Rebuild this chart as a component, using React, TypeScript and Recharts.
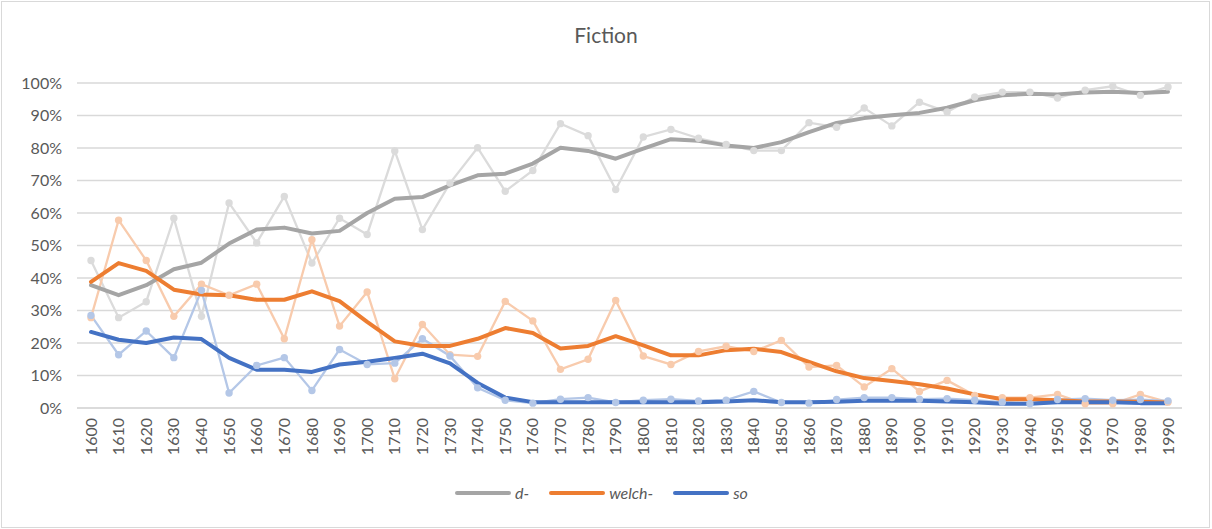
import React from "react";
import { LineChart, Line, XAxis, YAxis, CartesianGrid, Legend } from "recharts";

const years = [
  "1600", "1610", "1620", "1630", "1640", "1650", "1660", "1670", "1680", "1690",
  "1700", "1710", "1720", "1730", "1740", "1750", "1760", "1770", "1780", "1790",
  "1800", "1810", "1820", "1830", "1840", "1850", "1860", "1870", "1880", "1890",
  "1900", "1910", "1920", "1930", "1940", "1950", "1960", "1970", "1980", "1990",
];

const dRaw = [45.4, 27.8, 32.7, 58.4, 28.2, 63.1, 50.8, 65.1, 44.6, 58.4, 53.4, 79.1, 54.9, 69.2, 80.1, 66.7, 73.1, 87.5, 83.8, 67.2, 83.4, 85.7, 83.0, 81.1, 79.2, 79.2, 87.8, 86.4, 92.3, 86.8, 94.1, 91.1, 95.7, 97.2, 97.2, 95.4, 97.8, 99.0, 96.2, 98.8];
const dSmooth = [37.8, 34.7, 37.8, 42.7, 44.7, 50.6, 54.9, 55.5, 53.7, 54.5, 60.0, 64.4, 64.9, 68.5, 71.6, 72.1, 75.2, 80.1, 79.1, 76.7, 79.8, 82.7, 82.2, 80.8, 80.0, 81.8, 84.9, 87.7, 89.2, 90.1, 90.8, 92.4, 94.7, 96.2, 96.7, 96.5, 97.1, 97.3, 96.9, 97.3];
const welchRaw = [27.8, 57.8, 45.4, 28.2, 38.1, 34.7, 38.1, 21.3, 51.8, 25.2, 35.7, 9.0, 25.7, 16.4, 15.9, 32.8, 26.8, 11.9, 15.0, 33.1, 16.0, 13.4, 17.4, 19.0, 17.4, 20.8, 12.6, 13.1, 6.5, 12.1, 5.1, 8.5, 3.9, 3.2, 3.2, 4.2, 1.3, 1.3, 4.2, 1.8];
const welchSmooth = [38.8, 44.6, 42.2, 36.4, 34.9, 34.7, 33.3, 33.3, 35.9, 32.9, 26.5, 20.5, 19.1, 19.1, 21.3, 24.6, 23.1, 18.3, 19.1, 22.1, 19.3, 16.2, 16.2, 17.8, 18.2, 17.2, 14.2, 11.3, 9.2, 8.3, 7.3, 6.0, 4.2, 2.7, 2.7, 2.4, 2.0, 2.0, 1.9, 1.7];
const soRaw = [28.5, 16.4, 23.7, 15.5, 36.2, 4.6, 13.1, 15.5, 5.4, 18.0, 13.4, 13.8, 21.3, 16.0, 6.2, 2.4, 1.5, 2.7, 3.2, 1.7, 2.4, 2.7, 2.2, 2.4, 5.1, 1.7, 1.5, 2.6, 3.2, 3.2, 2.7, 2.9, 2.4, 1.8, 1.3, 2.6, 2.9, 2.4, 2.6, 2.2];
const soSmooth = [23.4, 21.0, 20.0, 21.7, 21.2, 15.4, 11.8, 11.8, 11.1, 13.4, 14.2, 15.4, 16.7, 13.7, 7.7, 3.2, 1.8, 1.8, 1.8, 1.8, 1.8, 1.8, 1.8, 2.0, 2.4, 1.8, 1.8, 1.9, 2.2, 2.2, 2.2, 2.0, 1.8, 1.3, 1.3, 1.8, 1.8, 1.8, 1.5, 1.5];

const yTicks = [0, 10, 20, 30, 40, 50, 60, 70, 80, 90, 100];

const data = years.map((y, i) => ({
  year: y,
  dRaw: dRaw[i],
  dSmooth: dSmooth[i],
  welchRaw: welchRaw[i],
  welchSmooth: welchSmooth[i],
  soRaw: soRaw[i],
  soSmooth: soSmooth[i],
}));

const FONT = "Lato, 'Open Sans', sans-serif";
const TEXT = "#595959";

const legendItems = [
  { label: "d-", color: "#A5A5A5" },
  { label: "welch-", color: "#ED7D31" },
  { label: "so", color: "#4472C4" },
];

const XTick = (props: any) => {
  const { x, y, payload } = props;
  return (
    <text
      x={x}
      y={y}
      transform={`rotate(-90, ${x}, ${y})`}
      textAnchor="end"
      dy="0.35em"
      fontFamily={FONT}
      fontSize={16}
      fill={TEXT}
    >
      {payload.value}
    </text>
  );
};

const LegendContent = () => (
  <div
    style={{
      display: "flex",
      justifyContent: "center",
      alignItems: "center",
      paddingLeft: 11,
      fontFamily: FONT,
      fontSize: 16,
      fontStyle: "italic",
      color: TEXT,
    }}
  >
    {legendItems.map((it) => (
      <div key={it.label} style={{ display: "flex", alignItems: "center", marginRight: 20 }}>
        <svg width={56} height={10}>
          <line x1={2} y1={5} x2={54} y2={5} stroke={it.color} strokeWidth={4} strokeLinecap="round" />
        </svg>
        <span style={{ marginLeft: 4 }}>{it.label}</span>
      </div>
    ))}
  </div>
);

export default function App() {
  return (
    <div style={{ position: "absolute", left: 0, top: 0, width: 1212, height: 529, background: "#fff" }}>
      <div
        style={{
          position: "absolute",
          left: 1,
          top: 1,
          width: 1209,
          height: 527,
          border: "1px solid #d9d9d9",
          boxSizing: "border-box",
          pointerEvents: "none",
        }}
      />
      <div
        style={{
          position: "absolute",
          left: 0,
          top: 22,
          width: 1212,
          textAlign: "center",
          fontFamily: FONT,
          fontSize: 21,
          color: TEXT,
        }}
      >
        Fiction
      </div>
      <LineChart
        width={1212}
        height={529}
        data={data}
        margin={{ top: 83, right: 30, left: 0, bottom: 0 }}
      >
        <CartesianGrid vertical={false} stroke="#d9d9d9" strokeWidth={1.3} />
        <XAxis
          dataKey="year"
          interval={0}
          height={121}
          tick={<XTick />}
          tickLine={false}
          tickSize={0}
          tickMargin={10}
          axisLine={{ stroke: "#d9d9d9", strokeWidth: 1.3 }}
          padding={{ left: 14, right: 14 }}
        />
        <YAxis
          width={77}
          domain={[0, 100]}
          ticks={yTicks}
          tickFormatter={(v: number) => `${v}%`}
          axisLine={false}
          tickLine={false}
          tickSize={0}
          tickMargin={15}
          tick={{ fontFamily: FONT, fontSize: 16, fill: TEXT }}
          interval={0}
        />
        <Line type="linear" dataKey="dRaw" stroke="#DBDBDB" strokeWidth={2.3}
          dot={{ r: 3.7, fill: "#DBDBDB", stroke: "#DBDBDB", strokeWidth: 0 }}
          activeDot={false} legendType="none" isAnimationActive={false} />
        <Line type="linear" dataKey="welchRaw" stroke="#F8CBAD" strokeWidth={2.3}
          dot={{ r: 3.7, fill: "#F8CBAD", stroke: "#F8CBAD", strokeWidth: 0 }}
          activeDot={false} legendType="none" isAnimationActive={false} />
        <Line type="linear" dataKey="soRaw" stroke="#B4C7E7" strokeWidth={2.3}
          dot={{ r: 3.7, fill: "#B4C7E7", stroke: "#B4C7E7", strokeWidth: 0 }}
          activeDot={false} legendType="none" isAnimationActive={false} />
        <Line type="linear" dataKey="dSmooth" name="d-" stroke="#A5A5A5" strokeWidth={4}
          strokeLinejoin="round" strokeLinecap="round" dot={false} activeDot={false} isAnimationActive={false} />
        <Line type="linear" dataKey="welchSmooth" name="welch-" stroke="#ED7D31" strokeWidth={4}
          strokeLinejoin="round" strokeLinecap="round" dot={false} activeDot={false} isAnimationActive={false} />
        <Line type="linear" dataKey="soSmooth" name="so" stroke="#4472C4" strokeWidth={4}
          strokeLinejoin="round" strokeLinecap="round" dot={false} activeDot={false} isAnimationActive={false} />
        <Legend
          verticalAlign="middle"
          align="center"
          layout="horizontal"
          content={<LegendContent />}
          wrapperStyle={{ top: 483, left: 0, width: 1212, height: 22 }}
        />
      </LineChart>
    </div>
  );
}
